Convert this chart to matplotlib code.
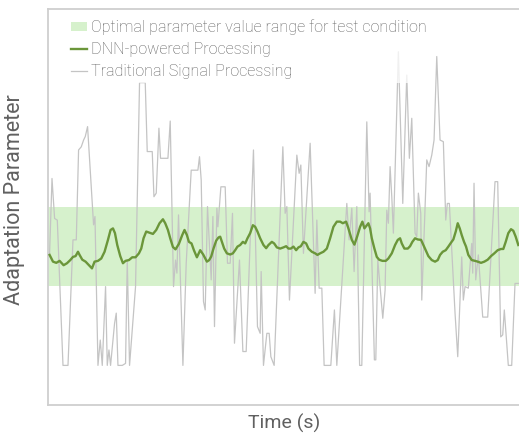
#!/usr/bin/env python3
"""Adaptation parameter over time: DNN vs traditional processing."""

import matplotlib

matplotlib.use("Agg")
import matplotlib.pyplot as plt

# optimal range for the test condition
band_low = 30.0
band_high = 50.0

# traditional signal processing (noisy, clipped at the bottom)
trad_t = [
    0.3, 2.7, 5.3, 8, 13.7, 18.7, 23.7, 27, 29.3, 32, 34.3, 36, 38.3, 40.3,
    44.3, 45.7, 48.7, 51, 53, 56.3, 58, 59.7, 61.3, 65.3, 67, 68.7, 73, 76.3,
    78, 80.3, 86.3, 90.3, 96, 98, 103, 104.7, 107, 109.7, 111.3, 118.7, 121,
    124.3, 126.3, 127.7, 129.3, 133.7, 137, 142, 148.7, 150.3, 152, 154.3, 156,
    158.3, 162, 163.7, 165.3, 167.7, 168.7, 171.7, 176, 178.3, 181, 183.3,
    185.3, 190.3, 193.7, 197, 204.3, 208.3, 211, 212, 214.3, 217.7, 220, 221.7,
    225, 233.7, 236, 237.7, 240.3, 247.7, 250, 251.7, 254.3, 261, 266, 267.7,
    270, 272.7, 275, 281.7, 285.3, 287.7, 297.7, 300, 302.7, 305, 307.7, 310.5,
    312.7, 317.7, 320, 321, 325.3, 326.7, 328.7, 333.7, 336, 337.7, 339.3, 341,
    342.7, 344.3, 349.3, 353.7, 357.7, 360.3, 362.7, 366, 367.7, 369.3, 371.7,
    372.7, 377.7, 380, 382.7, 385, 387.7, 391, 394.3, 396.7, 398.3, 400.3, 406,
    408.7, 412.7, 414.3, 416, 419.3, 422.7, 423.7, 425, 426.7, 429.3, 433.7,
    438.7, 446, 448.7, 451.7, 453.7, 455.3, 459.3, 462.7, 466, 469.3,
]
trad_v = [
    38.3, 57.2, 47.1, 46.7, 10, 10, 41.7, 41.7, 64.4, 65.2, 66.9, 67.8, 70.3, 61.9,
    45.5, 47.6, 10, 16.4, 10, 29.9, 10, 13.9, 10, 20.6, 23.2, 10, 10, 10.5,
    36.6, 10, 29.9, 81.4, 81.4, 64.0, 64.0, 52.6, 53.5, 69.9, 62.3, 62.3, 71.7,
    29.9, 36.6, 33.3, 48.0, 10, 35.8, 59.3, 59.3, 62.7, 56.8, 26.1, 24.0,
    50.1, 31.6, 47.6, 19.8, 49.7, 45.0, 55.1, 55.1, 35.8, 35.8, 48.4,
    15.6, 36.6, 13.5, 13.5, 64.4, 19.8, 18.1, 33.7, 10, 18.1, 18.1, 12.2,
    10, 65.2, 48.4, 50.1, 26.5, 63.1, 58.5, 60.6, 38.3, 66.1, 28.2, 46.7,
    29.5, 29.5, 10, 10, 24.0, 10, 50.9, 41.7, 49.7, 33.7, 50.1, 10,
    10, 71.5, 48.8, 53.5, 11.4, 11.4, 36.6, 21.9, 29.0, 49.2, 45.9, 60.2,
    52.6, 43.4, 89.2, 50.9, 83.3, 62.3, 72.4, 43.4, 42.5, 53.5, 48.4,
    26.5, 61.9, 60.2, 63.1, 66.9, 88.0, 66.9, 66.5, 46.7, 50.9, 50.9, 23.2,
    12.2, 37.4, 26.5, 29.9, 29.5, 40.8, 33.3, 56.0, 31.6, 37.9, 22.2,
    22.2, 56.4, 56.4, 17.2, 17.7, 24.0, 10, 10, 30.7, 30.7,
]

# DNN-powered processing (smooth, stays in range)
dnn_t = [
    0.3, 3.7, 7, 10.3, 14.3, 17.7, 21, 23.7, 26.3, 28.7, 30.3, 33, 36.3, 39.7,
    42.7, 45.3, 48.7, 52, 55.3, 58.7, 61.3, 63.7, 65.7, 68, 71, 73.7, 76.3,
    79.7, 83, 86.3, 89.7, 92, 94.3, 97, 100.3, 103.7, 107, 110.3, 113.7, 116,
    118.7, 121, 123.7, 126.3, 129.7, 133, 135.3, 137.7, 139.7, 142.3, 144.7,
    147.7, 151, 154, 157.7, 160, 162, 164.3, 167, 169.3, 171, 172.7, 175,
    177.7, 181, 183.7, 186, 188.3, 191, 193.7, 196, 198.3, 201, 203.7, 206,
    208.3, 211, 214.3, 217, 219.3, 222.7, 225, 227.7, 231, 234.3, 237, 239.3,
    241.7, 244.3, 247, 249.3, 251.7, 254.3, 257, 259.3, 262.7, 266, 268.3, 271,
    274.3, 277.7, 281, 284.3, 287.7, 291, 293.7, 297, 299.3, 302.7, 305.3, 308,
    311, 313.3, 315.3, 317.7, 319.3, 321, 322.7, 325.3, 327.7, 330, 333.3,
    336.7, 339.3, 342.7, 346, 348.7, 351, 352.7, 355.3, 358.7, 361, 363.3, 366,
    368.7, 372, 374.3, 376.7, 379.3, 382.7, 386, 388.7, 391, 393.7, 396.7,
    399.3, 402, 404.3, 406.7, 408.7, 410.7, 412.7, 415, 417, 419.3, 422.7, 426,
    428.7, 432, 435.3, 438.7, 442, 445.3, 448.7, 452, 454.3, 456.7, 459.3, 462,
    464.3, 466.7, 469.3,
]
dnn_v = [
    37.9, 36.2, 35.9, 36.4, 35.3, 35.8, 36.6, 37.4, 37.6, 38.7, 37.9, 36.7, 36.2, 35.3,
    34.5, 36.2, 36.4, 37.0, 38.7, 41.7, 44.2, 44.6, 43.4, 40.4, 37.6, 35.8, 36.4,
    36.6, 37.3, 37.3, 38.3, 39.5, 42.1, 43.8, 43.5, 43.2, 44.2, 45.9, 46.9, 45.9,
    44.2, 42.1, 39.9, 39.3, 40.7, 42.9, 44.2, 42.9, 41.2, 40.8, 39.1,
    37.3, 39.1, 38.0, 36.2, 36.6, 37.5, 39.5, 41.5, 42.3, 42.5, 41.2, 39.5,
    38.3, 38.0, 38.3, 39.1, 40.0, 40.4, 41.2, 40.8, 42.1, 43.4, 45.4, 45.0,
    43.8, 42.1, 40.4, 39.6, 40.4, 41.2, 40.8, 39.8, 39.5, 39.8, 40.1, 39.5,
    39.5, 40.0, 39.1, 39.8, 40.1, 41.2, 40.8, 39.5, 38.7, 38.3, 37.9, 38.3,
    38.7, 39.5, 42.1, 45.0, 46.3, 46.3, 45.9, 46.3, 44.6, 41.7, 40.5, 42.5,
    45.0, 46.3, 44.6, 45.4, 45.9, 44.6, 42.1, 39.5, 37.4, 36.7, 36.4,
    36.4, 37.0, 38.3, 40.4, 41.7, 42.1, 40.8, 39.5, 39.5, 40.1, 41.2, 42.1,
    41.8, 41.7, 40.4, 39.1, 37.6, 36.6, 36.2, 36.6, 37.9, 38.7, 39.1,
    40.0, 41.0, 41.8, 43.8, 45.9, 44.6, 42.9, 41.2, 40.0, 37.9, 36.6, 36.4,
    36.2, 35.9, 36.2, 36.7, 37.6, 38.3, 39.1, 39.4, 39.4, 41.2, 43.4, 44.4,
    44.0, 42.5, 40.4,
]

TEXT_GRAY = "#606060"
SPINE_GRAY = "#cfcfcf"

plt.rcParams["font.family"] = ["Roboto", "DejaVu Sans"]
plt.rcParams["font.weight"] = "light"

fig = plt.figure(figsize=(5.19, 4.33), dpi=100)
ax = fig.add_axes([48 / 519, 28 / 433, 471.5 / 519, 396 / 433])

ax.axhspan(band_low, band_high, color="#d6f1cc", lw=0,
           label="Optimal parameter value range for test condition")
ax.plot(dnn_t, dnn_v, color="#6b963a", lw=1.7, zorder=3,
        label="DNN-powered Processing")
ax.plot(trad_t, trad_v, color="#c4c4c4", lw=0.9, zorder=2,
        label="Traditional Signal Processing")

ax.set_xlim(-1.3, 470.5)
ax.set_ylim(0, 100)
ax.set_xticks([])
ax.set_yticks([])
for side in ("left", "bottom", "top", "right"):
    ax.spines[side].set_color(SPINE_GRAY)
    ax.spines[side].set_linewidth(1.3)

ax.set_xlabel("Time (s)", fontsize=14, color=TEXT_GRAY, labelpad=6)
ax.set_ylabel("Adaptation Parameter", fontsize=15.5, color=TEXT_GRAY)
ax.yaxis.set_label_coords(-0.048, 0.518)

handles, labels = ax.get_legend_handles_labels()
leg = ax.legend(handles, labels, loc="upper left", bbox_to_anchor=(0.041, 0.981),
                fontsize=11.6, frameon=True, framealpha=0.75, facecolor="white",
                edgecolor="none", handlelength=1.05, handleheight=0.5,
                handletextpad=0.2, labelspacing=0.43, borderpad=0.2,
                borderaxespad=0.0)
for txt in leg.get_texts():
    txt.set_color(TEXT_GRAY)

fig.savefig("out.png", dpi=100)
plt.close(fig)
